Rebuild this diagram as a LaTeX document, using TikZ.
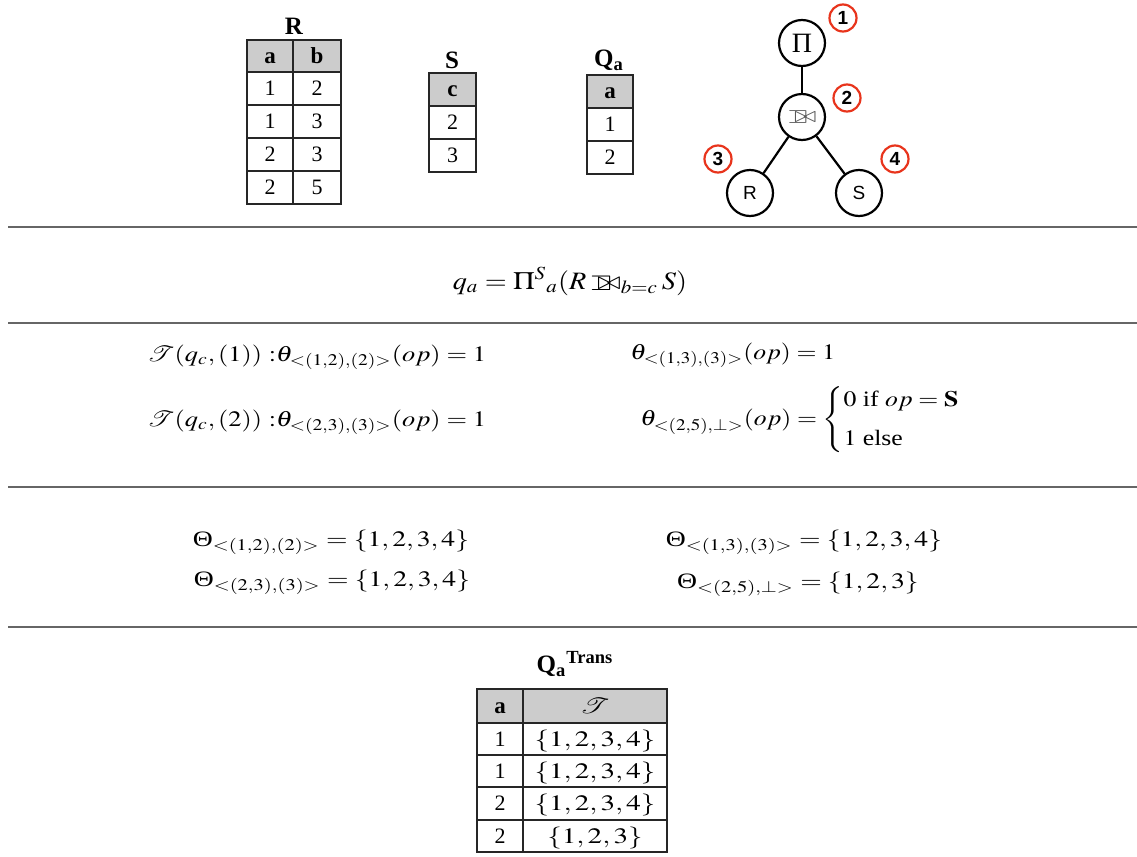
\documentclass[tikz,border=0pt]{standalone}
\usepackage{amsmath}
\usepackage{amssymb}
\usepackage{mathptmx}
\usepackage{mathrsfs}
\usepackage[no-math]{fontspec}
\setmainfont{Liberation Serif}
\setsansfont{Liberation Sans}
\newcommand{\myojoin}{\mathbin{\sqsupset\mkern-9.5mu\bowtie}}
\newcommand{\hs}[2]{\scalebox{#1}[1]{#2}}
\newcommand{\myTheta}{\text{Θ}}
\begin{document}
\begin{tikzpicture}[x=0.5pt,y=-0.5pt,
  hdr/.style={fill=black!20},
  tbl/.style={draw=black!85,line width=0.6pt},
  cell/.style={inner sep=0pt,text height=7.4pt,text depth=0pt,font=\fontsize{11}{13}\selectfont},
  cellb/.style={cell,font=\fontsize{11.5}{13}\selectfont\bfseries},
  ttl/.style={inner sep=0pt,font=\fontsize{12.5}{14}\selectfont\bfseries},
  tnode/.style={circle,draw=black,line width=1.1pt,minimum size=23pt,inner sep=0pt},
  tedge/.style={draw=black,line width=1.1pt},
  rnum/.style={circle,draw={rgb,255:red,232;green,52;blue,28},line width=1.1pt,minimum size=13.5pt,inner sep=0pt,font=\sffamily\bfseries\fontsize{9.5}{10}\selectfont},
  hrule/.style={draw=black!60,line width=1pt},
  mth/.style={inner sep=0pt,font=\fontsize{11}{13}\selectfont}
]
\useasboundingbox (0,0) rectangle (1137,857);

% ---- table R
\node[ttl] (tR) at (294,26) {R};
\fill[hdr] (247,40) rectangle (341,72);
\draw[tbl] (247,40) rectangle (341,204);
\foreach \y in {72,105,138,171} \draw[tbl] (247,\y) -- (341,\y);
\draw[tbl] (293,40) -- (293,204);
\node[cellb] (rha) at (270,56) {a};
\node[cellb] (rhb) at (317,56) {b};
\node[cell] (r1a) at (270,88.5) {1}; \node[cell] (r1b) at (317,88.5) {2};
\node[cell] (r2a) at (270,121.5) {1}; \node[cell] (r2b) at (317,121.5) {3};
\node[cell] (r3a) at (270,154.5) {2}; \node[cell] (r3b) at (317,154.5) {3};
\node[cell] (r4a) at (270,187.5) {2}; \node[cell] (r4b) at (317,187.5) {5};

% ---- table S
\node[ttl] (tS) at (452,60) {S};
\fill[hdr] (429,73) rectangle (476,106);
\draw[tbl] (429,73) rectangle (476,172);
\foreach \y in {106,139} \draw[tbl] (429,\y) -- (476,\y);
\node[cellb] (shc) at (452.5,89.5) {c};
\node[cell] (s1) at (452.5,122.5) {2};
\node[cell] (s2) at (452.5,155.5) {3};

% ---- table Qa
\node[ttl] (tQ) at (609,60) {Q$_{\textbf{a}}$};
\fill[hdr] (587,75) rectangle (633,108);
\draw[tbl] (587,75) rectangle (633,174);
\foreach \y in {108,141} \draw[tbl] (587,\y) -- (633,\y);
\node[cellb] (qha) at (610,91.5) {a};
\node[cell] (q1) at (610,124.5) {1};
\node[cell] (q2) at (610,157.5) {2};

% ---- tree
\node[tnode,font=\fontsize{14}{16}\selectfont] (pi) at (802,43) {Π};
\node[tnode] (join) at (802,117) {\color{black!65}\fontsize{11}{12}\selectfont\hs{1.2}{$\myojoin$}};
\node[tnode,font=\sffamily\fontsize{9.5}{12}\selectfont] (rr) at (750,193) {R};
\node[tnode,font=\sffamily\fontsize{9.5}{12}\selectfont] (ss) at (859,193) {S};
\draw[tedge] (pi) -- (join);
\draw[tedge] (join) -- (rr);
\draw[tedge] (join) -- (ss);
\node[rnum] (n1) at (843,18) {1};
\node[rnum] (n2) at (847,98) {2};
\node[rnum] (n3) at (718,159) {3};
\node[rnum] (n4) at (895,159) {4};

% ---- rules
\coordinate (l1a) at (8,227); \coordinate (l1b) at (1137,227);
\coordinate (l2a) at (8,323); \coordinate (l2b) at (1137,323);
\coordinate (l3a) at (8,487); \coordinate (l3b) at (1137,487);
\coordinate (l4a) at (8,627); \coordinate (l4b) at (1137,627);
\draw[hrule] (l1a) -- (l1b);
\draw[hrule] (l2a) -- (l2b);
\draw[hrule] (l3a) -- (l3b);
\draw[hrule] (l4a) -- (l4b);

% ---- formula
\node[mth,anchor=base,font=\fontsize{12.5}{14}\selectfont] (qa) at (570,289) {\hs{1.13}{$q_a = \Pi^{S}{}_{a}(R \myojoin_{b=c} S)$}};

% ---- theta rows
\node[mth,anchor=base west] (t1) at (147,361) {\hs{1.2}{$\mathscr{T}(q_c,(1))\ {:}\theta_{<(1,2),(2)>}(op) = 1$}};
\node[mth,anchor=base west] (t2) at (147,426) {\hs{1.2}{$\mathscr{T}(q_c,(2))\ {:}\theta_{<(2,3),(3)>}(op) = 1$}};
\node[mth,anchor=base west] (t3) at (630,359) {\hs{1.17}{$\theta_{<(1,3),(3)>}(op) = 1$}};
\node[mth,anchor=west] (t4) at (640,420) {\hs{1.17}{$\theta_{<(2,5),\perp>}(op) = \begin{cases}0 \text{ if } op = \mathbf{S}\\[4pt] 1 \text{ else}\end{cases}$}};

% ---- Theta rows
\node[mth,anchor=base] (T1) at (331,546) {\hs{1.26}{$\myTheta_{<(1,2),(2)>} = \{1,2,3,4\}$}};
\node[mth,anchor=base] (T2) at (332,586) {\hs{1.26}{$\myTheta_{<(2,3),(3)>} = \{1,2,3,4\}$}};
\node[mth,anchor=base] (T3) at (804,546) {\hs{1.26}{$\myTheta_{<(1,3),(3)>} = \{1,2,3,4\}$}};
\node[mth,anchor=base] (T4) at (798,588) {\hs{1.26}{$\myTheta_{<(2,5),\perp>} = \{1,2,3\}$}};

% ---- table Qa Trans
\node[ttl] (tQT) at (575,664) {Q$_{\textbf{a}}{}^{\textbf{Trans}}$};
\fill[hdr] (477,689) rectangle (667,723);
\draw[tbl] (477,689) rectangle (667,852);
\foreach \y in {723,755,787,820} \draw[tbl] (477,\y) -- (667,\y);
\draw[tbl] (523,689) -- (523,852);
\node[cellb] (bha) at (500,706) {a};
\node[cell] (bhT) at (595,706) {\hs{1.3}{$\mathscr{T}$}};
\node[cell] (b1a) at (500,739) {1}; \node[cell] (b1b) at (595,739) {\hs{1.32}{$\{1,2,3,4\}$}};
\node[cell] (b2a) at (500,771) {1}; \node[cell] (b2b) at (595,771) {\hs{1.32}{$\{1,2,3,4\}$}};
\node[cell] (b3a) at (500,803.5) {2}; \node[cell] (b3b) at (595,803.5) {\hs{1.32}{$\{1,2,3,4\}$}};
\node[cell] (b4a) at (500,836) {2}; \node[cell] (b4b) at (595,836) {\hs{1.32}{$\{1,2,3\}$}};
\end{tikzpicture}
\end{document}
